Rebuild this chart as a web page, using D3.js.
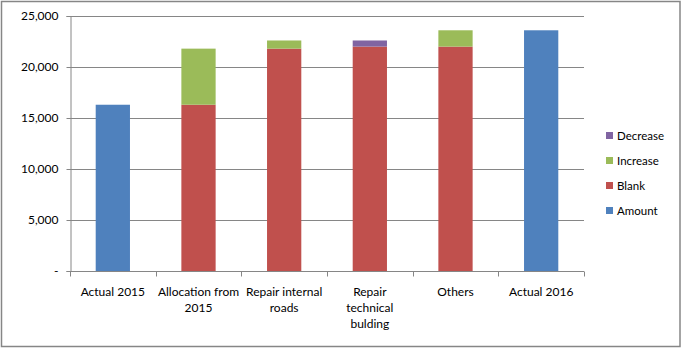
<!DOCTYPE html>
<html>
<head>
<meta charset="utf-8">
<script src="https://cdn.jsdelivr.net/npm/d3@7"></script>
<style>
  html, body { margin: 0; padding: 0; background: #fff; }
  svg { display: block; font-family: Lato, "Open Sans", "Liberation Sans", sans-serif; }
</style>
</head>
<body>
<svg id="chart" width="682" height="349"></svg>
<script>
// Waterfall: each step stacks an invisible-looking "Blank" base with a change on top
const categories = [["Actual 2015"], ["Allocation from", "2015"], ["Repair internal", "roads"],
                    ["Repair", "technical", "bulding"], ["Others"], ["Actual 2016"]];
const amount   = [16300, 0, 0, 0, 0, 23600];
const blank    = [0, 16300, 21800, 22000, 22000, 0];
const increase = [0, 5500, 800, 0, 1600, 0];
const decrease = [0, 0, 0, 600, 0, 0];
const yTicks = [0, 5000, 10000, 15000, 20000, 25000];

const seriesNames = ["Amount", "Blank", "Increase", "Decrease"];
const colors = { Amount: "#4f81bd", Blank: "#c0504d", Increase: "#9bbb59", Decrease: "#8064a2" };

const rows = categories.map((c, i) => ({
  key: i, Amount: amount[i], Blank: blank[i], Increase: increase[i], Decrease: decrease[i]
}));

const svg = d3.select("#chart");
const margin = { left: 70, right: 98, top: 16, bottom: 78 };
const W = 682, H = 349;

const x = d3.scaleBand().domain(rows.map(d => d.key))
  .range([margin.left, W - margin.right]).paddingInner(0.6).paddingOuter(0.3);
const y = d3.scaleLinear().domain([0, 25000]).range([H - margin.bottom, margin.top]);

// outer chart border
svg.append("rect").attr("x", 1.5).attr("y", 1.5).attr("width", 678.5).attr("height", 345)
  .attr("fill", "#fff").attr("stroke", "#868686").attr("stroke-width", 1.5);

// gridlines
svg.append("g").selectAll("line").data(yTicks.slice(1)).join("line")
  .attr("x1", margin.left).attr("x2", W - margin.right)
  .attr("y1", d => Math.round(y(d)) + 0.5).attr("y2", d => Math.round(y(d)) + 0.5)
  .attr("stroke", "#868686").attr("stroke-width", 1);

// stacked bars
const stack = d3.stack().keys(seriesNames)(rows);
svg.append("g").selectAll("g").data(stack).join("g")
  .attr("fill", s => colors[s.key])
  .selectAll("rect").data(s => s.filter(d => d[1] > d[0])).join("rect")
  .attr("x", d => x(d.data.key)).attr("width", x.bandwidth())
  .attr("y", d => y(d[1])).attr("height", d => y(d[0]) - y(d[1]));

// y axis
const yAxis = d3.axisLeft(y).tickValues(yTicks).tickSize(4).tickPadding(8)
  .tickFormat(d => d === 0 ? "-" : d3.format(",")(d));
const gy = svg.append("g").attr("transform", `translate(${margin.left + 0.5},0)`).call(yAxis);
gy.selectAll("path, line").attr("stroke", "#868686");
gy.selectAll("text").attr("font-size", 12).attr("fill", "#000")
  .attr("font-family", "Lato, 'Open Sans', sans-serif");

// x axis with tick marks at band boundaries
const xBase = Math.round(y(0)) + 0.5;
svg.append("line").attr("x1", margin.left).attr("x2", W - margin.right)
  .attr("y1", xBase).attr("y2", xBase).attr("stroke", "#868686");
const step = (W - margin.right - margin.left) / rows.length;
svg.append("g").selectAll("line").data(d3.range(rows.length + 1)).join("line")
  .attr("x1", i => Math.round(margin.left + i * step) + 0.5)
  .attr("x2", i => Math.round(margin.left + i * step) + 0.5)
  .attr("y1", xBase).attr("y2", xBase + 5).attr("stroke", "#868686");

// category labels
const labels = svg.append("g").selectAll("text").data(rows).join("text")
  .attr("x", d => x(d.key) + x.bandwidth() / 2).attr("y", 296)
  .attr("text-anchor", "middle").attr("font-size", 12).attr("fill", "#000");
labels.selectAll("tspan").data(d => categories[d.key]).join("tspan")
  .attr("x", function () { return this.parentNode.getAttribute("x"); })
  .attr("dy", (t, i) => i === 0 ? 0 : 16).text(t => t);

// legend (reversed order, as stacked)
const legend = svg.append("g").selectAll("g").data(seriesNames.slice().reverse()).join("g")
  .attr("transform", (d, i) => `translate(606, ${136 + i * 25})`);
legend.append("rect").attr("x", 0).attr("y", -4).attr("width", 7).attr("height", 7)
  .attr("fill", d => colors[d]);
legend.append("text").attr("x", 11).attr("y", 4).attr("font-size", 11.5).attr("fill", "#000").text(d => d);
</script>
</body>
</html>
